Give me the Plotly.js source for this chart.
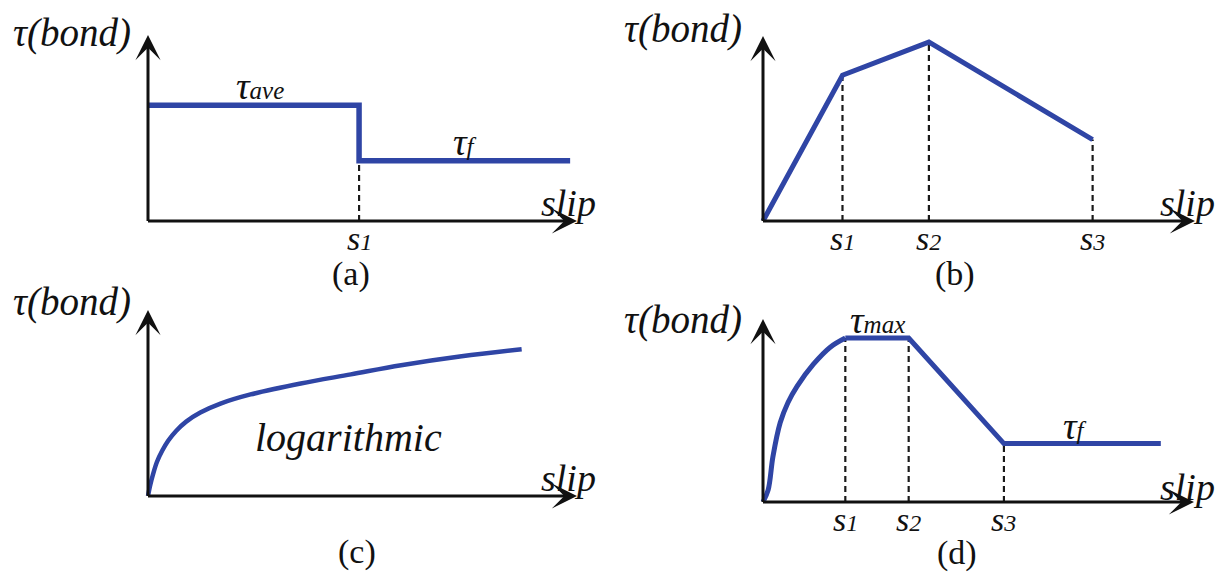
<!DOCTYPE html>
<html>
<head>
<meta charset="utf-8">
<script src="https://cdn.plot.ly/plotly-3.0.1.min.js"></script>
<style>
  html, body { margin: 0; padding: 0; background: #ffffff; }
  #chart { width: 1224px; height: 572px; }
</style>
</head>
<body>
<div id="chart"></div>
<script>
// (a) uniform average bond stress dropping to friction after s1
const slipA = [0, 49.2, 49.2, 98.4];
const tauA  = [62.2, 62.2, 32.4, 32.4];
const marksA = [49.2];
const marksTauA = [32.4];
const markLabelsA = ['1'];

// (b) tri-linear bond-slip law
const slipB = [0, 18.4, 38.4, 76.3];
const tauB  = [0, 78.8, 96.7, 44.0];
const marksB = [18.4, 38.4, 76.3];
const marksTauB = [78.8, 96.7, 44.0];
const markLabelsB = ['1', '2', '3'];

// (c) logarithmic bond-slip law
const slipC = [0, 0.47, 1.2, 2.1, 3.3, 4.7, 6.6, 8.9, 12.2, 16.9, 23.9, 35.6, 47.3, 59.0, 73.1, 87.1];
const tauC  = [0, 5.4, 11.9, 18.4, 24.3, 29.7, 35.1, 40.0, 44.9, 49.7, 54.6, 60.5, 65.4, 70.3, 75.1, 78.9];

// (d) curved ascending branch, plateau, softening, residual friction
const slipRiseD = [0, 1.2, 2.3, 4.0, 5.8, 7.9, 11.7, 15.6, 19.1];
const tauRiseD  = [0, 6.6, 24.7, 43.4, 54.4, 63.2, 75.3, 84.6, 89.6];
const slipD = [19.1, 33.8, 55.9, 92.3];
const tauD  = [89.6, 89.6, 31.9, 31.9];
const marksD = [19.1, 33.8, 55.9];
const marksTauD = [89.6, 89.6, 31.9];
const markLabelsD = ['1', '2', '3'];

const W = 1224, H = 572;
const BLUE = '#2f45a5';
const INK = '#111111';
const SERIF = 'Liberation Serif';
const LEAD = 4; // axis units kept left of / below the origin

// pixel frame of each panel: origin and arrow tips
const frames = [
  { ox: 148, oy: 221, tx: 577, ty: 35 },
  { ox: 763, oy: 221, tx: 1195, ty: 36 },
  { ox: 148, oy: 496, tx: 577, ty: 310 },
  { ox: 763, oy: 502, tx: 1194, ty: 319 }
];
const suffix = ['', '2', '3', '4'];

const layout = {
  width: W, height: H,
  margin: { l: 0, r: 0, t: 0, b: 0 },
  paper_bgcolor: '#ffffff', plot_bgcolor: 'rgba(0,0,0,0)',
  showlegend: false,
  font: { family: SERIF, color: INK, size: 30 },
  annotations: []
};

const boxes = frames.map((f, i) => {
  const n = suffix[i];
  const ux = (f.tx - f.ox) / 100;
  const uy = (f.oy - f.ty) / 100;
  const x0 = f.ox - LEAD * ux, y0 = f.oy + LEAD * uy;
  layout['xaxis' + n] = {
    domain: [x0 / W, f.tx / W], range: [-LEAD, 100],
    visible: false, fixedrange: true, anchor: 'y' + n
  };
  layout['yaxis' + n] = {
    domain: [1 - y0 / H, 1 - f.ty / H], range: [-LEAD, 100],
    visible: false, fixedrange: true, anchor: 'x' + n
  };
  return { x0: x0, y0: y0, w: f.tx - x0, h: y0 - f.ty };
});

const traces = [];
function dashed(xs, ts, n) {
  xs.forEach((x, k) => {
    traces.push({
      x: [x, x], y: [0, ts[k]], xaxis: 'x' + n, yaxis: 'y' + n,
      mode: 'lines', hoverinfo: 'skip',
      line: { color: '#1a1a1a', width: 2.2, dash: '6px,4px' }
    });
  });
}
function curve(xs, ys, n, width, shape) {
  traces.push({
    x: xs, y: ys, xaxis: 'x' + n, yaxis: 'y' + n,
    mode: 'lines', hoverinfo: 'skip',
    line: { color: BLUE, width: width, shape: shape || 'linear', smoothing: 1 }
  });
}

dashed(marksA, marksTauA, '');
dashed(marksB, marksTauB, '2');
dashed(marksD, marksTauD, '4');
curve(slipA, tauA, '', 5.5);
curve(slipB, tauB, '2', 5);
curve(slipC, tauC, '3', 4.5, 'spline');
curve(slipRiseD, tauRiseD, '4', 5, 'spline');
curve(slipD, tauD, '4', 5);

// axes drawn as arrows from each origin
suffix.forEach(n => {
  const base = { xref: 'x' + n, yref: 'y' + n, axref: 'x' + n, ayref: 'y' + n,
    text: '', showarrow: true, arrowhead: 3, arrowsize: 1.4, arrowwidth: 3,
    arrowcolor: INK, standoff: 0, startstandoff: 0 };
  layout.annotations.push(Object.assign({}, base, { x: 100, y: 0, ax: -0.35, ay: 0 }));
  layout.annotations.push(Object.assign({}, base, { x: 0, y: 100, ax: 0, ay: -0.8 }));
});

// small index set beside a symbol on (nearly) the same baseline
function idx(t, size) {
  return '<span style="font-size:' + size + 'px"><i>' + t + '</i></span>';
}

// text placed by pixel position inside panel i
function label(i, px, py, text, size) {
  const b = boxes[i], n = suffix[i];
  layout.annotations.push({
    xref: 'x' + n + ' domain', yref: 'y' + n + ' domain',
    x: (px - b.x0) / b.w, y: (b.y0 - py) / b.h,
    text: text, showarrow: false,
    font: { family: SERIF, size: size, color: INK },
    xanchor: 'center', yanchor: 'middle'
  });
}
function sLabels(i, xs, names) {
  const n = suffix[i];
  xs.forEach((x, k) => {
    layout.annotations.push({
      xref: 'x' + n, yref: 'y' + n, x: x, y: 0, yanchor: 'top', xanchor: 'center',
      yshift: 3, showarrow: false,
      text: '<i>s</i>' + idx(names[k], 24),
      font: { family: SERIF, size: 34, color: INK }
    });
  });
}

const bondTitle = '<i>τ(bond)</i>';
const slipTitle = '<i>slip</i>';
label(0, 72, 33, bondTitle, 39);
label(1, 683, 29, bondTitle, 39);
label(2, 72, 302, bondTitle, 39);
label(3, 683, 320, bondTitle, 39);
label(0, 568, 203, slipTitle, 38);
label(1, 1187, 203, slipTitle, 38);
label(2, 568, 478, slipTitle, 38);
label(3, 1187, 487, slipTitle, 38);

sLabels(0, marksA, markLabelsA);
sLabels(1, marksB, markLabelsB);
sLabels(3, marksD, markLabelsD);

// branch names
label(0, 260, 86, '<i>τ</i>' + idx('ave', 25), 38);
label(0, 465, 142, '<i>τ</i>' + idx('f', 25), 38);
label(3, 877, 320, '<i>τ</i>' + idx('max', 25), 38);
label(3, 1075, 426, '<i>τ</i>' + idx('f', 25), 38);
label(2, 348, 437, '<i>logarithmic</i>', 40);

// panel captions
label(0, 351, 274, '(a)', 34);
label(1, 955, 274, '(b)', 34);
label(2, 357, 552, '(c)', 34);
label(3, 957, 553, '(d)', 34);

Plotly.newPlot('chart', traces, layout, { staticPlot: true, displayModeBar: false });
</script>
</body>
</html>
